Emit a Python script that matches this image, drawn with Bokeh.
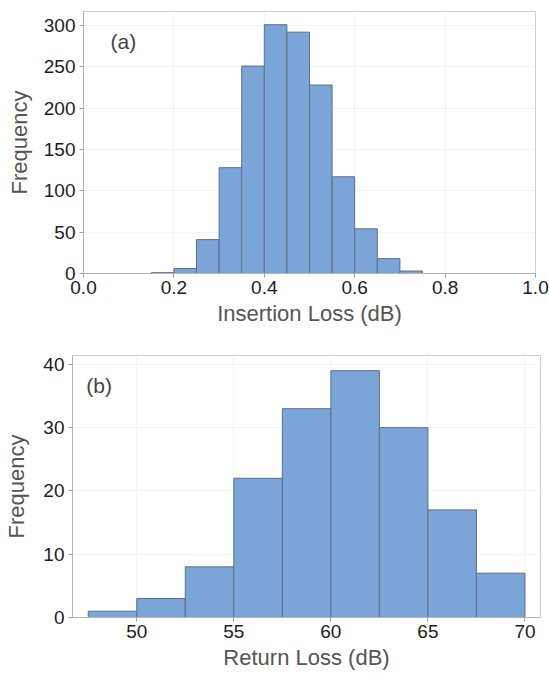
from bokeh.plotting import figure
from bokeh.models import FixedTicker, NumeralTickFormatter, Range1d
from bokeh.core.properties import value
from bokeh.embed import file_html
from bokeh.resources import INLINE

# ---- data ----
il_edges = [0.15, 0.20, 0.25, 0.30, 0.35, 0.40, 0.45, 0.50, 0.55, 0.60, 0.65, 0.70, 0.75]
il_counts = [1, 6, 41, 128, 251, 301, 292, 228, 117, 54, 18, 3]
il_xticks = [0.0, 0.2, 0.4, 0.6, 0.8, 1.0]
il_yticks = [0, 50, 100, 150, 200, 250, 300]

rl_edges = [47.5, 50.0, 52.5, 55.0, 57.5, 60.0, 62.5, 65.0, 67.5, 70.0]
rl_counts = [1, 3, 8, 22, 33, 39, 30, 17, 7]
rl_xticks = [50, 55, 60, 65, 70]
rl_yticks = [0, 10, 20, 30, 40]

FONT = "Liberation Sans"
BAR_FILL = "#7ba5d9"
BAR_LINE = "#5d6f84"


def style(p, xlabel):
    p.outline_line_color = "#cfcfcf"
    p.outline_line_width = 1
    p.background_fill_color = "white"
    p.border_fill_color = "white"
    for g in (p.xgrid, p.ygrid):
        g.grid_line_color = "#f3f3f3"
        g.grid_line_width = 1
    for ax in (p.xaxis, p.yaxis):
        ax.axis_line_color = "#b5b5b5"
        ax.major_tick_line_color = "#a0a0a0"
        ax.major_tick_out = 4
        ax.major_tick_in = 0
        ax.minor_tick_line_color = None
        ax.major_label_text_font = FONT
        ax.major_label_text_font_size = "19px"
        ax.major_label_text_color = "#1e1e1e"
        ax.axis_label_text_font = FONT
        ax.axis_label_text_font_size = "22px"
        ax.axis_label_text_font_style = "normal"
        ax.axis_label_text_color = "#555555"
    p.xaxis.axis_label = xlabel
    p.yaxis.axis_label = "Frequency"
    p.xaxis.major_label_standoff = 3
    p.xaxis.axis_label_standoff = 4
    p.yaxis.major_label_standoff = 4


# ---- (a) Insertion loss ----
p1 = figure(width=549, height=348, output_backend="svg", toolbar_location=None,
            x_range=Range1d(0.0, 1.0), y_range=Range1d(0, 317),
            min_border_left=83, min_border_right=14, min_border_top=11, min_border_bottom=75)
p1.quad(left=il_edges[:-1], right=il_edges[1:], bottom=0, top=il_counts,
        fill_color=BAR_FILL, line_color=BAR_LINE, line_width=1)
style(p1, "Insertion Loss (dB)")
p1.yaxis.axis_label_standoff = 9
p1.xaxis.ticker = FixedTicker(ticks=il_xticks)
p1.xaxis.formatter = NumeralTickFormatter(format="0.0")
p1.yaxis.ticker = FixedTicker(ticks=il_yticks)
p1.xgrid.ticker = FixedTicker(ticks=il_xticks)
p1.ygrid.ticker = FixedTicker(ticks=il_yticks)
p1.text(x=[0.06], y=[281], text=["(a)"], text_font=value(FONT), text_font_size="21px",
        text_color="#444444", text_align="left", text_baseline="middle")

# ---- (b) Return loss ----
p2 = figure(width=549, height=324, output_backend="svg", toolbar_location=None,
            x_range=Range1d(46.69, 70.8), y_range=Range1d(0, 41.4),
            min_border_left=72, min_border_right=9, min_border_top=7, min_border_bottom=55)
p2.quad(left=rl_edges[:-1], right=rl_edges[1:], bottom=0, top=rl_counts,
        fill_color=BAR_FILL, line_color=BAR_LINE, line_width=1)
style(p2, "Return Loss (dB)")
p2.yaxis.axis_label_standoff = 11
p2.xaxis.ticker = FixedTicker(ticks=rl_xticks)
p2.yaxis.ticker = FixedTicker(ticks=rl_yticks)
p2.xgrid.ticker = FixedTicker(ticks=rl_xticks)
p2.ygrid.ticker = FixedTicker(ticks=rl_yticks)
p2.text(x=[47.4], y=[36.6], text=["(b)"], text_font=value(FONT), text_font_size="21px",
        text_color="#444444", text_align="left", text_baseline="middle")

open("out.html", "w").write(file_html([p1, p2], INLINE))
